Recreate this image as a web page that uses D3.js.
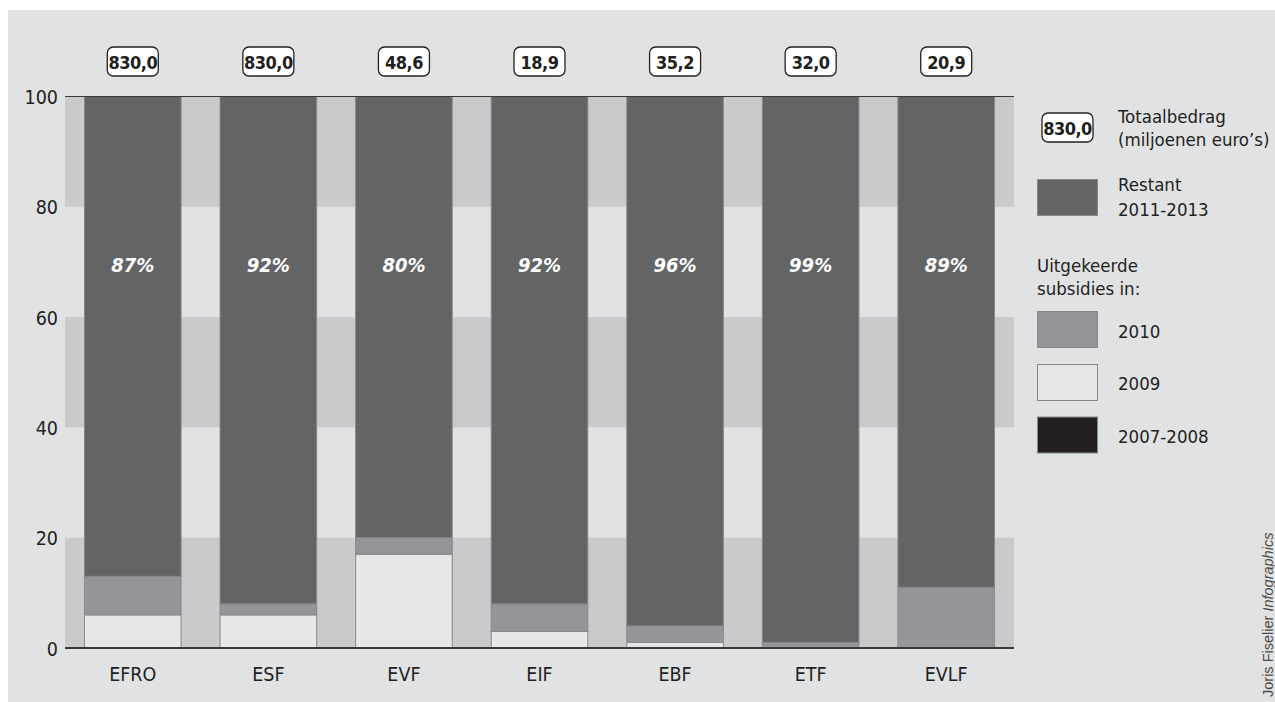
<!DOCTYPE html>
<html>
<head>
<meta charset="utf-8">
<script src="https://cdn.jsdelivr.net/npm/d3@7"></script>
<style>
  body { margin: 0; background: #fff; }
  svg { display: block; }
  text { font-family: "DejaVu Sans Condensed", "DejaVu Sans", sans-serif; font-stretch: condensed; }
</style>
</head>
<body>
<div id="viz-container"></div>
<script>
// data
const categories = ["EFRO", "ESF", "EVF", "EIF", "EBF", "ETF", "EVLF"];
const totals = ["830,0", "830,0", "48,6", "18,9", "35,2", "32,0", "20,9"];
const paid0708 = [0, 0, 0, 0, 0, 0, 0];
const paid2009 = [6, 6, 17, 3, 1, 0, 0];
const paid2010 = [7, 2, 3, 5, 3, 1, 11];
const restant = [87, 92, 80, 92, 96, 99, 89];
const yTicks = [0, 20, 40, 60, 80, 100];
const keys = ["p0708", "p2009", "p2010", "restant"];

const colors = {
  p0708: "#231f20",
  p2009: "#e6e7e8",
  p2010: "#949598",
  restant: "#636466"
};

let rows = categories.map(function(c, i) {
  return { cat: c, p0708: paid0708[i], p2009: paid2009[i], p2010: paid2010[i], restant: restant[i] };
});

//create canvas
let viz = d3.select("#viz-container")
    .append("svg")
    .attr("width", 1275)
    .attr("height", 702)
;

viz.append("rect")
  .attr("x", 8).attr("y", 10)
  .attr("width", 1267).attr("height", 692)
  .attr("fill", "#e1e2e4");

let x = d3.scaleBand()
  .domain(categories)
  .range([65, 1014])
  .paddingInner(0.28)
  .paddingOuter(0.14);

let y = d3.scaleLinear().domain([0, 100]).range([648, 96.5]);

// alternating horizontal bands
let bandPairs = d3.pairs(yTicks).filter(function(d, i) { return i % 2 == 0; });
viz.selectAll(".stripe").data(bandPairs).enter()
  .append("rect")
  .attr("x", 65)
  .attr("width", 1014 - 65)
  .attr("y", d => y(d[1]))
  .attr("height", d => y(d[0]) - y(d[1]))
  .attr("fill", "#c9cacc");

// stacked bars
let series = d3.stack().keys(keys)(rows);
let layers = viz.selectAll(".layer").data(series).enter()
  .append("g")
  .attr("fill", d => colors[d.key]);

layers.selectAll("rect").data(d => d.filter(s => s[1] - s[0] > 0)).enter()
  .append("rect")
  .attr("x", d => x(d.data.cat) + 0.5)
  .attr("width", x.bandwidth() - 1)
  .attr("y", d => y(d[1]))
  .attr("height", d => y(d[0]) - y(d[1]))
  .attr("stroke", "#88898b")
  .attr("stroke-width", 1);

// top and bottom lines
viz.append("line")
  .attr("x1", 65).attr("x2", 1014)
  .attr("y1", y(100)).attr("y2", y(100))
  .attr("stroke", "#3a3a3c").attr("stroke-width", 1.2);
viz.append("line")
  .attr("x1", 65).attr("x2", 1014)
  .attr("y1", y(0)).attr("y2", y(0))
  .attr("stroke", "#3a3a3c").attr("stroke-width", 2);

// y labels
viz.selectAll(".ytick").data(yTicks).enter()
  .append("text")
  .attr("x", 58)
  .attr("y", d => y(d) + 7.5)
  .attr("text-anchor", "end")
  .attr("font-size", 19.5)
  .attr("fill", "#231f20")
  .text(d => d);

// category labels
viz.selectAll(".xlab").data(categories).enter()
  .append("text")
  .attr("x", d => x(d) + x.bandwidth() / 2)
  .attr("y", 681)
  .attr("text-anchor", "middle")
  .attr("font-size", 19.5)
  .attr("fill", "#231f20")
  .text(d => d);

// percentage labels
viz.selectAll(".pct").data(rows).enter()
  .append("text")
  .attr("x", d => x(d.cat) + x.bandwidth() / 2)
  .attr("y", y(68.2))
  .attr("text-anchor", "middle")
  .attr("font-size", 20)
  .attr("font-weight", "bold")
  .attr("font-style", "italic")
  .attr("fill", "#ffffff")
  .text(d => d.restant + "%");

// total boxes
function totalBox(g, label) {
  g.append("rect")
    .attr("x", -25.5).attr("y", -14.5)
    .attr("width", 51).attr("height", 29)
    .attr("rx", 6)
    .attr("fill", "#ffffff")
    .attr("stroke", "#231f20")
    .attr("stroke-width", 1.3);
  g.append("text")
    .attr("y", 7)
    .attr("text-anchor", "middle")
    .attr("font-size", 18)
    .attr("font-weight", "bold")
    .attr("letter-spacing", -0.5)
    .attr("fill", "#231f20")
    .text(label);
}

viz.selectAll(".total").data(rows).enter()
  .append("g")
  .attr("transform", (d, i) => "translate(" + (x(d.cat) + x.bandwidth() / 2) + ",61.5)")
  .each(function(d, i) { totalBox(d3.select(this), totals[i]); });

// legend
let legend = viz.append("g");
totalBox(legend.append("g").attr("transform", "translate(1067.5,127.5)"), totals[0]);

function legText(xp, yp, str) {
  legend.append("text")
    .attr("x", xp).attr("y", yp)
    .attr("font-size", 18.5)
    .attr("fill", "#231f20")
    .text(str);
}
legText(1118, 123, "Totaalbedrag");
legText(1118, 146, "(miljoenen euro\u2019s)");

function swatch(yp, key) {
  legend.append("rect")
    .attr("x", 1037.5).attr("y", yp)
    .attr("width", 60).attr("height", 36)
    .attr("fill", colors[key])
    .attr("stroke", "#88898b")
    .attr("stroke-width", 1);
}
swatch(179.5, "restant");
legText(1118, 191, "Restant");
legText(1118, 215.5, "2011-2013");

legText(1037, 271.5, "Uitgekeerde");
legText(1037, 295, "subsidies in:");

swatch(311.5, "p2010");
legText(1118, 338, "2010");
swatch(364.5, "p2009");
legText(1118, 390, "2009");
swatch(417, "p0708");
legText(1118, 443, "2007-2008");

// credit
let credit = viz.append("text")
  .attr("transform", "translate(1273,697) rotate(-90)")
  .attr("font-size", 14.5)
  .attr("fill", "#4a4a4a")
  .style("font-family", "'Liberation Sans', Arial, sans-serif")
  .style("font-stretch", "normal");
credit.append("tspan").text("Joris Fiselier ");
credit.append("tspan").attr("font-style", "italic").text("Infographics");
</script>
</body>
</html>
